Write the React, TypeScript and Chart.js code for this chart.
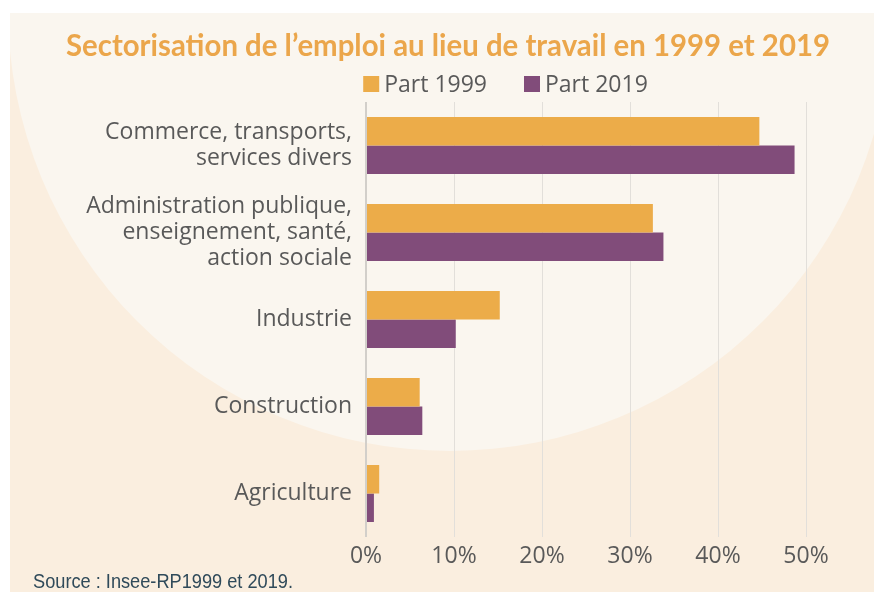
import React, { useEffect, useRef } from "react";
import { Chart, registerables } from "chart.js";

Chart.register(...registerables);

const categories: (string | string[])[] = [
  ["Commerce, transports,", "services divers"],
  ["Administration publique,", "enseignement, santé,", "action sociale"],
  "Industrie",
  "Construction",
  "Agriculture",
];
const seriesLabels = ["Part 1999", "Part 2019"];
const part1999 = [44.7, 32.6, 15.2, 6.1, 1.5];
const part2019 = [48.7, 33.8, 10.2, 6.4, 0.9];
const xTickValues = [0, 10, 20, 30, 40, 50];
const titleText = "Sectorisation de l’emploi au lieu de travail en 1999 et 2019";
const sourceText = "Source : Insee-RP1999 et 2019.";

const ORANGE = "#ECAC49";
const PURPLE = "#814C7A";
const LABEL = "#595959";
const FONT = "'Open Sans', 'DejaVu Sans', sans-serif";

const backgroundPlugin = {
  id: "bgPanel",
  beforeDraw(chart: any) {
    const { ctx, width, height } = chart;
    ctx.save();
    ctx.fillStyle = "#FFFFFF";
    ctx.fillRect(0, 0, width, height);
    ctx.fillStyle = "#FAEEDF";
    ctx.beginPath();
    ctx.rect(10, 13, width - 10, height - 13);
    ctx.fill();
    ctx.clip();
    ctx.fillStyle = "#FAF6EF";
    ctx.beginPath();
    ctx.arc(450, 9, 442, 0, Math.PI * 2);
    ctx.fill();
    ctx.restore();
  },
};

const decorPlugin = {
  id: "decor",
  afterDraw(chart: any) {
    const { ctx } = chart;
    ctx.save();
    // Title
    ctx.font = "bold 31px Lato, 'Open Sans', sans-serif";
    ctx.fillStyle = "#EBA64B";
    ctx.textAlign = "center";
    ctx.textBaseline = "alphabetic";
    const tw = ctx.measureText(titleText).width;
    ctx.save();
    ctx.translate(448, 56);
    ctx.scale(764 / tw, 1);
    ctx.fillText(titleText, 0, 0);
    ctx.restore();

    // Legend
    ctx.font = `23px ${FONT}`;
    ctx.textAlign = "left";
    const box = 16;
    const gapText = 5;
    const gapItems = 37;
    const colors = chart.data.datasets.map((d: any) => d.backgroundColor);
    const widths = seriesLabels.map((l) => ctx.measureText(l).width);
    const total =
      widths.reduce((a, w) => a + box + gapText + w, 0) + gapItems * (seriesLabels.length - 1);
    let x = 505.5 - total / 2;
    seriesLabels.forEach((l, i) => {
      ctx.fillStyle = colors[i];
      ctx.fillRect(x, 76, box, box);
      ctx.fillStyle = LABEL;
      ctx.fillText(l, x + box + gapText, 92);
      x += box + gapText + widths[i] + gapItems;
    });

    // Source
    ctx.font = "20px 'Liberation Sans', Arial, sans-serif";
    ctx.fillStyle = "#2F4A5A";
    const sw = ctx.measureText(sourceText).width;
    ctx.save();
    ctx.translate(33, 588);
    ctx.scale(260 / sw, 1);
    ctx.fillText(sourceText, 0, 0);
    ctx.restore();
    ctx.restore();
  },
};

export default function App() {
  const ref = useRef<HTMLCanvasElement | null>(null);

  useEffect(() => {
    if (!ref.current) return;
    const chart = new Chart(ref.current, {
      type: "bar",
      data: {
        labels: categories,
        datasets: [
          {
            label: seriesLabels[0],
            data: part1999,
            backgroundColor: ORANGE,
            categoryPercentage: 0.655,
            barPercentage: 1,
          },
          {
            label: seriesLabels[1],
            data: part2019,
            backgroundColor: PURPLE,
            categoryPercentage: 0.655,
            barPercentage: 1,
          },
        ],
      },
      options: {
        indexAxis: "y",
        responsive: false,
        animation: false,
        events: [],
        layout: { padding: { top: 102, right: 68, left: 0, bottom: 0 } },
        plugins: {
          legend: { display: false },
          title: { display: false },
          tooltip: { enabled: false },
        },
        scales: {
          x: {
            min: 0,
            max: 50,
            afterBuildTicks: (scale: any) => {
              scale.ticks = xTickValues.map((v) => ({ value: v }));
            },
            ticks: {
              callback: (v: any) => `${v}%`,
              color: LABEL,
              font: { family: FONT, size: 23 },
              padding: 6,
            },
            grid: {
              color: (c: any) => (c.index === 0 ? "#D2CFCA" : "#E2DFDA"),
              lineWidth: (c: any) => (c.index === 0 ? 2 : 1),
              drawTicks: false,
            },
            border: { display: false },
            afterFit: (scale: any) => {
              scale.height = 55;
            },
          },
          y: {
            ticks: {
              color: LABEL,
              font: { family: FONT, size: 23, lineHeight: 1.12 },
              padding: 14,
            },
            grid: { display: false, drawTicks: false },
            border: { display: false },
            afterFit: (scale: any) => {
              scale.width = 366;
            },
          },
        },
      },
      plugins: [backgroundPlugin, decorPlugin],
    });
    return () => chart.destroy();
  }, []);

  return (
    <div style={{ position: "fixed", left: 0, top: 0, width: 874, height: 592 }}>
      <canvas ref={ref} width={874} height={592} />
    </div>
  );
}
